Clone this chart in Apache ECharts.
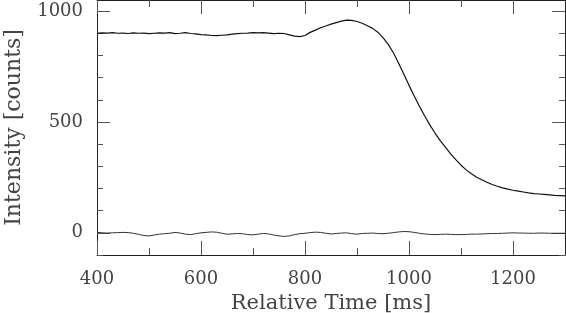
<!DOCTYPE html>
<html>
<head>
<meta charset="utf-8">
<script src="https://cdn.jsdelivr.net/npm/echarts@6/dist/echarts.min.js"></script>
<style>
  html, body { margin: 0; padding: 0; background: #fff; }
  #chart { width: 566px; height: 313px; }
</style>
</head>
<body>
<div id="chart"></div>
<script>
// relative time in ms, every 10 ms
const times = [];
for (let t = 400; t <= 1300; t += 10) times.push(t);

// upper trace
const upperCounts = [
  900, 902, 901, 903, 900, 901, 899, 902, 900, 901,
  898, 900, 902, 901, 903, 898, 900, 903, 899, 897,
  894, 893, 890, 889, 891, 893, 896, 898, 900, 901,
  903, 902, 903, 901, 898, 900, 899, 893, 887, 885,
  890, 904, 914, 925, 933, 941, 948, 955, 959, 958,
  953, 945, 934, 922, 905, 880, 850, 812, 765, 716,
  665, 617, 571, 528, 487, 450, 416, 386, 356, 330,
  305, 284, 266, 251, 239, 228, 218, 210, 203, 197,
  192, 188, 184, 180, 177, 175, 173, 171, 169, 168,
  167
];

// lower trace (background level)
const lowerCounts = [
  2, 0, -1, 0, 1, 2, 1, -2, -7, -12,
  -14, -10, -6, -4, -2, 2, -1, -6, -8, -4,
  0, 2, 4, 3, -2, -6, -5, -3, -4, -8,
  -9, -6, -3, -5, -10, -14, -16, -14, -8, -4,
  -2, 1, 3, 2, -2, -5, -3, -1, 0, -4,
  -6, -3, -2, -1, -3, -4, -2, 1, 4, 6,
  5, 2, -2, -5, -7, -8, -7, -6, -7, -8,
  -8, -7, -6, -6, -5, -4, -3, -3, -2, -1,
  0, -1, -1, -2, -2, -1, -1, -2, -2, -2,
  -2
];

// tick positions
const xMajorTicks = [400, 600, 800, 1000, 1200];
const xMinorTicks = [500, 700, 900, 1100];
const yMajorTicks = [0, 500, 1000];
const yMinorTicks = [-100, 100, 200, 300, 400, 600, 700, 800, 900];

const X_MIN = 400, X_MAX = 1300;
const Y_MIN = -100, Y_MAX = 1050;

const FONT = "DejaVu Serif";
const TXT = "#444";
const LINE = "#222";

function xAxisDef(pos, ticks, len, withLabels, withLine) {
  return {
    type: "value", position: pos, min: X_MIN, max: X_MAX,
    axisLine: { show: withLine, onZero: false, lineStyle: { color: LINE, width: 1 } },
    axisTick: { show: true, inside: true, length: len, customValues: ticks,
      lineStyle: { color: "#555", width: 1 } },
    axisLabel: withLabels
      ? { show: true, customValues: xMajorTicks, margin: 15, color: TXT,
          fontFamily: FONT, fontSize: 18, formatter: (v) => String(v) }
      : { show: false },
    splitLine: { show: false },
  };
}

function yAxisDef(pos, ticks, len, withLabels, withLine) {
  return {
    type: "value", position: pos, min: Y_MIN, max: Y_MAX,
    axisLine: { show: withLine, onZero: false, lineStyle: { color: LINE, width: 1 } },
    axisTick: { show: true, inside: true, length: len, customValues: ticks,
      lineStyle: { color: "#555", width: 1 } },
    axisLabel: withLabels
      ? { show: true, customValues: yMajorTicks, margin: 14, color: TXT,
          fontFamily: FONT, fontSize: 18, formatter: (v) => String(v) }
      : { show: false },
    splitLine: { show: false },
  };
}

const chart = echarts.init(document.getElementById("chart"), null, { renderer: "canvas" });

const xAxes = [
  Object.assign(xAxisDef("bottom", xMajorTicks, 14, true, true), {
    name: "Relative Time [ms]", nameLocation: "middle", nameGap: 35,
    nameTextStyle: { color: TXT, fontFamily: FONT, fontSize: 21 },
  }),
  xAxisDef("bottom", xMinorTicks, 7, false, false),
  xAxisDef("top", xMajorTicks, 14, false, true),
  xAxisDef("top", xMinorTicks, 7, false, false),
];

const yAxes = [
  Object.assign(yAxisDef("left", yMajorTicks, 13, true, true), {
    name: "Intensity [counts]", nameLocation: "middle", nameGap: 72,
    nameTextStyle: { color: TXT, fontFamily: FONT, fontSize: 22 },
  }),
  yAxisDef("left", yMinorTicks, 6, false, false),
  yAxisDef("right", yMajorTicks, 13, false, true),
  yAxisDef("right", yMinorTicks, 6, false, false),
];

chart.setOption({
  animation: false,
  backgroundColor: "#fff",
  grid: { left: 97, right: 1, top: 0, bottom: 58, containLabel: false, outerBoundsMode: "none" },
  xAxis: xAxes,
  yAxis: yAxes,
  series: [
    {
      name: "signal", type: "line", xAxisIndex: 0, yAxisIndex: 0,
      data: times.map((t, i) => [t, upperCounts[i]]),
      showSymbol: false, smooth: false,
      lineStyle: { color: "#111", width: 1.2 },
    },
    {
      name: "background", type: "line", xAxisIndex: 0, yAxisIndex: 0,
      data: times.map((t, i) => [t, lowerCounts[i]]),
      showSymbol: false, smooth: false,
      lineStyle: { color: "#333", width: 1 },
    },
  ],
});
</script>
</body>
</html>
